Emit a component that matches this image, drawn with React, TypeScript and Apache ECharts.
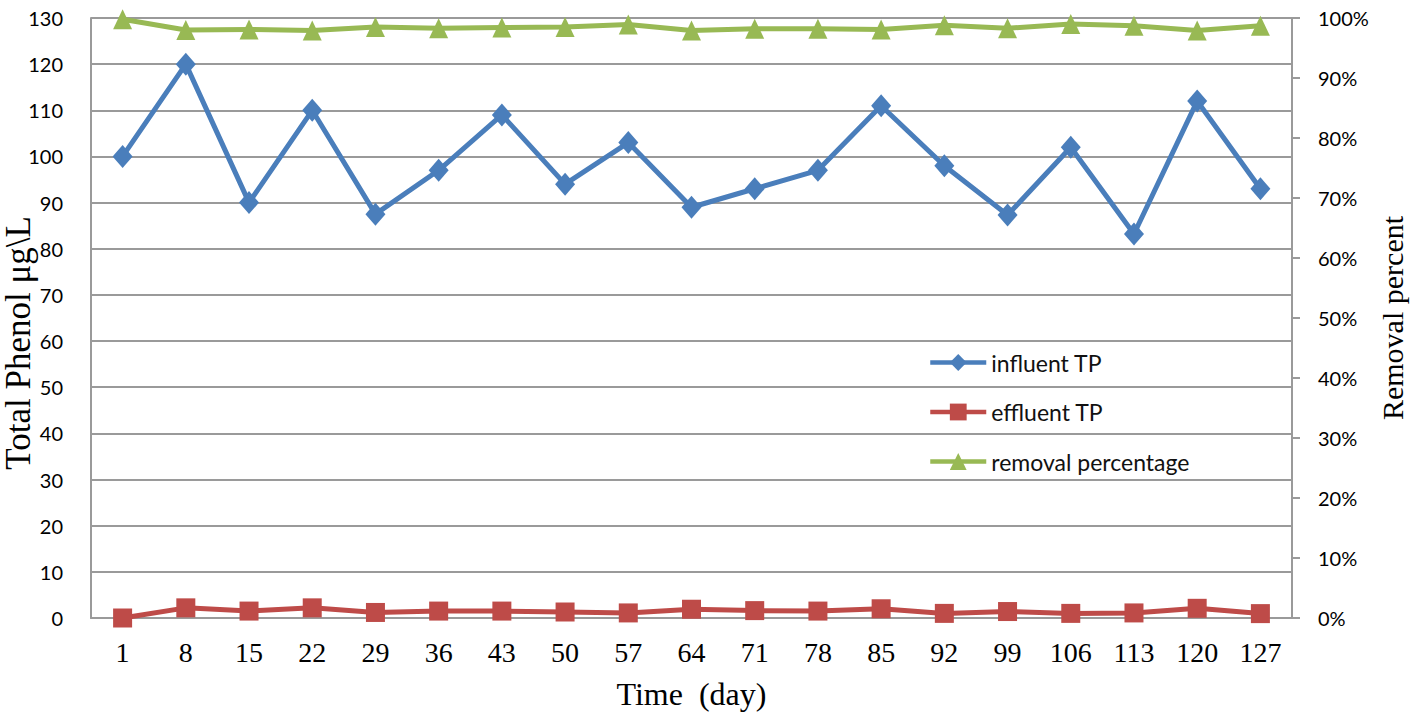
import React, { useEffect, useRef } from "react";
import * as echarts from "echarts";

// Sampling days
const days = ["1", "8", "15", "22", "29", "36", "43", "50", "57", "64", "71", "78", "85", "92", "99", "106", "113", "120", "127"];

// Total phenol, µg/L
const influentTP = [100, 120, 90, 110, 87.5, 97, 109, 94, 103, 89, 93, 97, 111, 98, 87.3, 102, 83.2, 112, 93];
const effluentTP = [0, 2.2, 1.5, 2.2, 1.2, 1.5, 1.5, 1.3, 1.1, 1.9, 1.6, 1.5, 2.0, 1.0, 1.4, 1.0, 1.1, 2.1, 0.95];

// Removal, %
const removalPct = [99.8, 98.0, 98.1, 97.9, 98.5, 98.3, 98.4, 98.5, 98.9, 97.9, 98.2, 98.2, 98.1, 98.8, 98.3, 99.0, 98.7, 97.9, 98.7];

const leftTicks = { min: 0, max: 130, interval: 10 };
const rightTicks = { min: 0, max: 100, interval: 10 };

const BLUE = "#4A7EBB";
const RED = "#BE4B48";
const GREEN = "#98B954";
const GRID = "#9A9A9A";
const SERIF = "'Liberation Serif', 'Times New Roman', serif";
const SANS = "Lato, 'Open Sans', sans-serif";

export default function App() {
  const ref = useRef<HTMLDivElement>(null);

  useEffect(() => {
    if (!ref.current) return;
    const chart = echarts.init(ref.current, undefined, { renderer: "svg" });
    chart.setOption({
      animation: false,
      backgroundColor: "#ffffff",
      grid: { left: 91, right: 132, top: 18, bottom: 97, containLabel: false, outerBoundsMode: "none" },
      legend: {
        orient: "vertical",
        left: 928,
        top: 351,
        padding: 0,
        itemWidth: 56,
        itemHeight: 21,
        itemGap: 26.5,
        lineStyle: { width: 4.5 },
        textStyle: { fontFamily: SANS, fontSize: 23, color: "#111" },
        data: ["influent TP", "effluent TP", "removal percentage"],
      },
      xAxis: {
        type: "category",
        data: days,
        boundaryGap: true,
        name: "Time  (day)",
        nameLocation: "middle",
        nameGap: 60,
        nameMoveOverlap: false,
        nameTextStyle: { fontFamily: SERIF, fontSize: 32, color: "#000" },
        axisLine: { lineStyle: { color: GRID, width: 2 } },
        axisTick: { show: false },
        axisLabel: { fontFamily: SERIF, fontSize: 28, color: "#000", margin: 20 },
      },
      yAxis: [
        {
          type: "value",
          ...leftTicks,
          name: "Total Phenol μg\\L",
          nameLocation: "middle",
          nameGap: 55,
          nameMoveOverlap: false,
          // extra room on the reading-end side nudges the title down the axis
          nameTextStyle: { fontFamily: SERIF, fontSize: 35, color: "#000", padding: [0, 50, 0, 0] },
          axisLine: { show: true, lineStyle: { color: GRID, width: 2 } },
          axisTick: { show: false },
          axisLabel: { fontFamily: SANS, fontSize: 20, color: "#000", margin: 28 },
          splitLine: { show: true, lineStyle: { color: GRID, width: 2 } },
        },
        {
          type: "value",
          ...rightTicks,
          position: "right",
          name: "Removal percent",
          nameLocation: "middle",
          nameGap: 85,
          nameRotate: 90,
          nameMoveOverlap: false,
          nameTextStyle: { fontFamily: SERIF, fontSize: 30, color: "#000" },
          axisLine: { show: true, lineStyle: { color: GRID, width: 2 } },
          axisTick: { show: true, length: 8, lineStyle: { color: GRID, width: 2 } },
          axisLabel: { fontFamily: SANS, fontSize: 20, color: "#000", margin: 26, formatter: "{value}%" },
          splitLine: { show: false },
        },
      ],
      series: [
        {
          name: "influent TP",
          type: "line",
          yAxisIndex: 0,
          data: influentTP,
          symbol: "diamond",
          symbolSize: [20, 23],
          color: BLUE,
          lineStyle: { width: 5, color: BLUE },
          itemStyle: { color: BLUE },
          z: 3,
        },
        {
          name: "effluent TP",
          type: "line",
          yAxisIndex: 0,
          data: effluentTP,
          symbol: "rect",
          symbolSize: 19,
          color: RED,
          lineStyle: { width: 5, color: RED },
          itemStyle: { color: RED },
          z: 3,
        },
        {
          name: "removal percentage",
          type: "line",
          yAxisIndex: 1,
          data: removalPct,
          symbol: "triangle",
          symbolSize: [19, 20],
          color: GREEN,
          lineStyle: { width: 5, color: GREEN },
          itemStyle: { color: GREEN },
          z: 3,
        },
      ],
    });
    return () => chart.dispose();
  }, []);

  return (
    <div
      ref={ref}
      style={{ position: "fixed", left: 0, top: 0, width: 1424, height: 715, background: "#fff" }}
    />
  );
}
